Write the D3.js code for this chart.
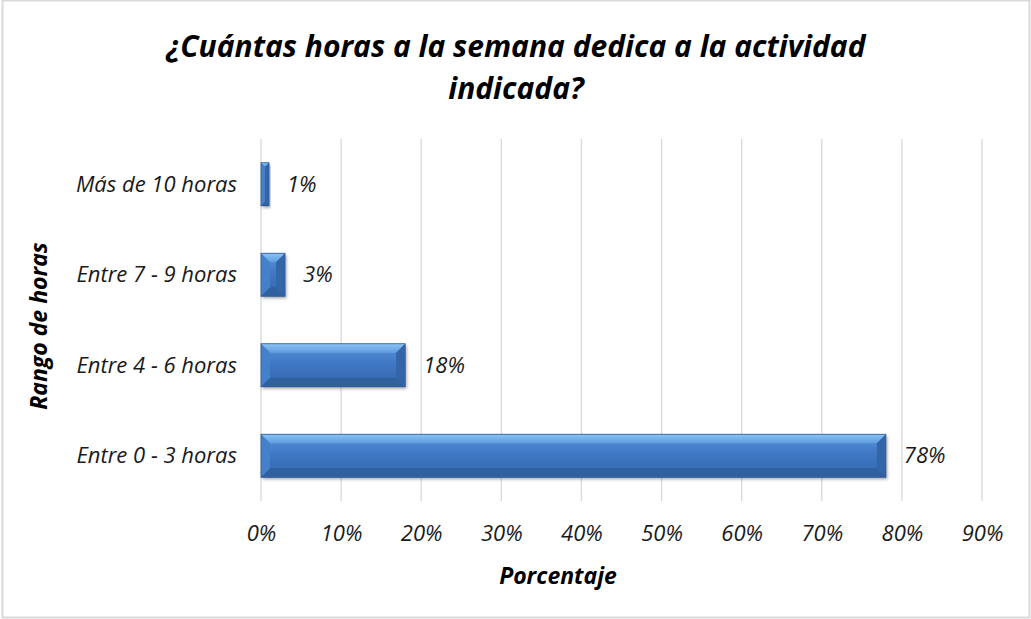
<!DOCTYPE html>
<html><head><meta charset="utf-8">
<script src="https://cdn.jsdelivr.net/npm/d3@7"></script>
<style>html,body{margin:0;padding:0;background:#fff;}svg{display:block;font-family:"Open Sans","Noto Sans",sans-serif;}</style>
</head><body>
<svg id="chart" width="1031" height="619"></svg>
<script>
const categories = ["Más de 10 horas", "Entre 7 - 9 horas", "Entre 4 - 6 horas", "Entre 0 - 3 horas"];
const values = [1, 3, 18, 78];
const valueLabels = ["1%", "3%", "18%", "78%"];
const xTicks = [0, 10, 20, 30, 40, 50, 60, 70, 80, 90];
const titleLines = ["¿Cuántas horas a la semana dedica a la actividad", "indicada?"];
const xTitle = "Porcentaje";
const yTitle = "Rango de horas";

const FONT = "'Open Sans','Noto Sans',sans-serif";
const svg = d3.select("#chart");
const plot = {left: 261, right: 982, top: 139, bottom: 501};

const defs = svg.append("defs");
const g1 = defs.append("linearGradient").attr("id","barGrad").attr("x1",0).attr("y1",0).attr("x2",0).attr("y2",1);
g1.append("stop").attr("offset","0%").attr("stop-color","#5a95dc");
g1.append("stop").attr("offset","45%").attr("stop-color","#3f78c4");
g1.append("stop").attr("offset","100%").attr("stop-color","#3566ad");
const gTop = defs.append("linearGradient").attr("id","topGrad").attr("x1",0).attr("y1",0).attr("x2",0).attr("y2",1);
gTop.append("stop").attr("offset","0%").attr("stop-color","#8cc3f2");
gTop.append("stop").attr("offset","100%").attr("stop-color","#5f9de0");
const flt = defs.append("filter").attr("id","shadow").attr("x","-10%").attr("y","-20%").attr("width","130%").attr("height","160%");
flt.append("feDropShadow").attr("dx",1.5).attr("dy",2).attr("stdDeviation",1.8).attr("flood-color","#000").attr("flood-opacity",0.35);

// border
svg.append("rect").attr("x",2.5).attr("y",0.5).attr("width",1027).attr("height",617)
  .attr("fill","#fff").attr("stroke","#d9d9d9").attr("stroke-width",2);

const x = d3.scaleLinear().domain([0, 90]).range([plot.left, plot.right]);
const y = d3.scaleBand().domain(categories).range([plot.top, plot.bottom]).paddingInner(0.525).paddingOuter(0.2625);

// gridlines
svg.append("g").selectAll("line").data(xTicks).join("line")
  .attr("x1", d => x(d)).attr("x2", d => x(d))
  .attr("y1", plot.top).attr("y2", plot.bottom)
  .attr("stroke", "#d9d9d9").attr("stroke-width", 1.3);

// x tick labels
const xAxis = d3.axisBottom(x).tickValues(xTicks).tickFormat(d => d + "%").tickSize(0).tickPadding(0);
const xg = svg.append("g").attr("transform", `translate(0,${plot.bottom})`).call(xAxis);
xg.select(".domain").remove();
xg.selectAll("text").attr("dy", null).attr("y", 40).attr("font-size", 22).attr("font-style","italic")
  .attr("font-family", FONT).attr("fill","#1a1a1a");

// y tick labels
const yAxis = d3.axisLeft(y).tickSize(0).tickPadding(0);
const yg = svg.append("g").attr("transform", `translate(${plot.left},0)`).call(yAxis);
yg.select(".domain").remove();
yg.selectAll("text").attr("x", -24).attr("dy","0.35em").attr("font-size", 22).attr("font-style","italic")
  .attr("font-family", FONT).attr("fill","#1a1a1a");

// bars
const data = categories.map((c, i) => ({c, v: values[i], label: valueLabels[i]}));
const bars = svg.append("g").selectAll("g").data(data).join("g");
bars.each(function(d) {
  const gg = d3.select(this);
  const x0 = x(0), x1 = x(d.v), y0 = y(d.c), h = y.bandwidth(), y1 = y0 + h;
  const w = x1 - x0;
  const b = Math.min(9, w / 2, h / 2);
  const pts = arr => arr.map(p => p.join(",")).join(" ");
  gg.append("rect").attr("x", x0).attr("y", y0).attr("width", w).attr("height", h)
    .attr("fill", "url(#barGrad)").attr("filter","url(#shadow)");
  gg.append("polygon").attr("points", pts([[x0,y0],[x1,y0],[x1-b,y0+b],[x0+b,y0+b]])).attr("fill","url(#topGrad)");
  gg.append("polygon").attr("points", pts([[x0,y1],[x1,y1],[x1-b,y1-b],[x0+b,y1-b]])).attr("fill","#31609f");
  gg.append("polygon").attr("points", pts([[x0,y0],[x0+b,y0+b],[x0+b,y1-b],[x0,y1]])).attr("fill","#4580ca");
  gg.append("polygon").attr("points", pts([[x1,y0],[x1-b,y0+b],[x1-b,y1-b],[x1,y1]])).attr("fill","#3366a9");
  gg.append("rect").attr("x", x0).attr("y", y0).attr("width", w).attr("height", h)
    .attr("fill","none").attr("stroke","#2d5a96").attr("stroke-width",0.8);
});

// value labels
svg.append("g").selectAll("text").data(data).join("text")
  .attr("x", d => x(d.v) + 18).attr("y", d => y(d.c) + y.bandwidth()/2)
  .attr("dy","0.35em").attr("font-size",22).attr("font-style","italic").attr("fill","#1a1a1a")
  .text(d => d.label);

// title
svg.append("g").selectAll("text").data(titleLines).join("text")
  .attr("x", 516).attr("y", (d,i) => 57 + i*42)
  .attr("text-anchor","middle").attr("font-size",30).attr("font-weight","bold").attr("font-style","italic")
  .attr("fill","#000").text(d => d);

// axis titles
svg.append("text").attr("x", 558).attr("y", 584).attr("text-anchor","middle")
  .attr("font-size",23).attr("font-weight","bold").attr("font-style","italic").attr("fill","#000").text(xTitle);
svg.append("text").attr("transform","translate(47,326) rotate(-90)").attr("text-anchor","middle")
  .attr("font-size",23).attr("font-weight","bold").attr("font-style","italic").attr("fill","#000").text(yTitle);
</script>
</body></html>
